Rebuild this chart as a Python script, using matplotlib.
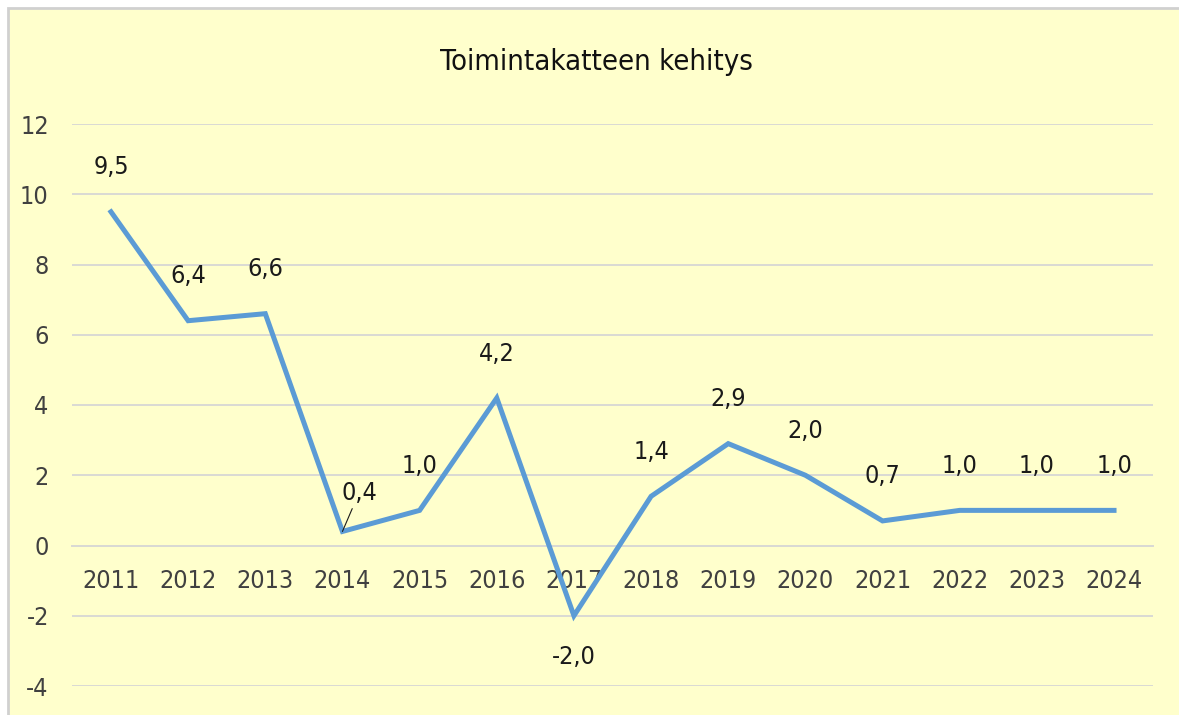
import matplotlib.pyplot as plt
from matplotlib.patches import Rectangle

years = ['2011', '2012', '2013', '2014', '2015', '2016', '2017',
         '2018', '2019', '2020', '2021', '2022', '2023', '2024']
values = [9.5, 6.4, 6.6, 0.4, 1.0, 4.2, -2.0, 1.4, 2.9, 2.0, 0.7, 1.0, 1.0, 1.0]
yticks = [-4, -2, 0, 2, 4, 6, 8, 10, 12]

plt.rcParams['font.family'] = ['DejaVu Sans']
plt.rcParams['font.stretch'] = 'condensed'

W, H = 1179, 715
fig = plt.figure(figsize=(W / 100, H / 100), dpi=100)
fig.patch.set_facecolor('white')
fig.patches.append(Rectangle((8 / W, -0.05), 1.1, 1 - 8 / H + 0.05,
                             transform=fig.transFigure, facecolor='#FFFFCC',
                             edgecolor='#D0D0D0', linewidth=2, zorder=-10))

ax = fig.add_axes([72.4 / W, 1 - 686 / H, (1152.6 - 72.4) / W, (686 - 124) / H])
ax.set_facecolor('none')
ax.set_zorder(5)

x = list(range(len(years)))
ax.plot(x, values, color='#5B9BD5', linewidth=3.6, solid_joinstyle='miter', zorder=3)

for i, v in enumerate(values):
    label = f'{v:.1f}'.replace('.', ',')
    if v < 0:
        ax.annotate(label, (i, v), xytext=(0, -30), textcoords='offset points',
                    ha='center', va='center', fontsize=18, color='#1a1a1a')
    elif years[i] == '2014':
        ax.annotate(label, (i, v), xytext=(12, 28), textcoords='offset points',
                    ha='center', va='center', fontsize=18, color='#1a1a1a',
                    arrowprops=dict(arrowstyle='-', color='#1a1a1a', lw=0.8,
                                    shrinkA=1, shrinkB=0))
    else:
        ax.annotate(label, (i, v), xytext=(0, 32), textcoords='offset points',
                    ha='center', va='center', fontsize=18, color='#1a1a1a')

ax.set_xlim(-0.5, len(years) - 0.5)
ax.set_ylim(-4, 12)
ax.set_yticks(yticks)
ax.set_yticklabels([str(t) for t in yticks])
ax.set_xticks(x)
ax.set_xticklabels(years)
ax.grid(axis='y', color='#D9D9D4', linewidth=1.4)
ax.set_axisbelow(True)
for s in ['top', 'right', 'left']:
    ax.spines[s].set_visible(False)
ax.spines['bottom'].set_position(('data', 0))
ax.spines['bottom'].set_color('#D9D9D4')
ax.spines['bottom'].set_linewidth(1.4)
ax.tick_params(axis='x', length=0, pad=17, labelsize=18, labelcolor='#404040')
ax.tick_params(axis='y', length=0, pad=17, labelsize=18, labelcolor='#404040')

fig.text(596 / W, 1 - 62 / H, 'Toimintakatteen kehitys', ha='center', va='center',
         fontsize=21, color='#111111')

fig.savefig('out.png', dpi=100)
